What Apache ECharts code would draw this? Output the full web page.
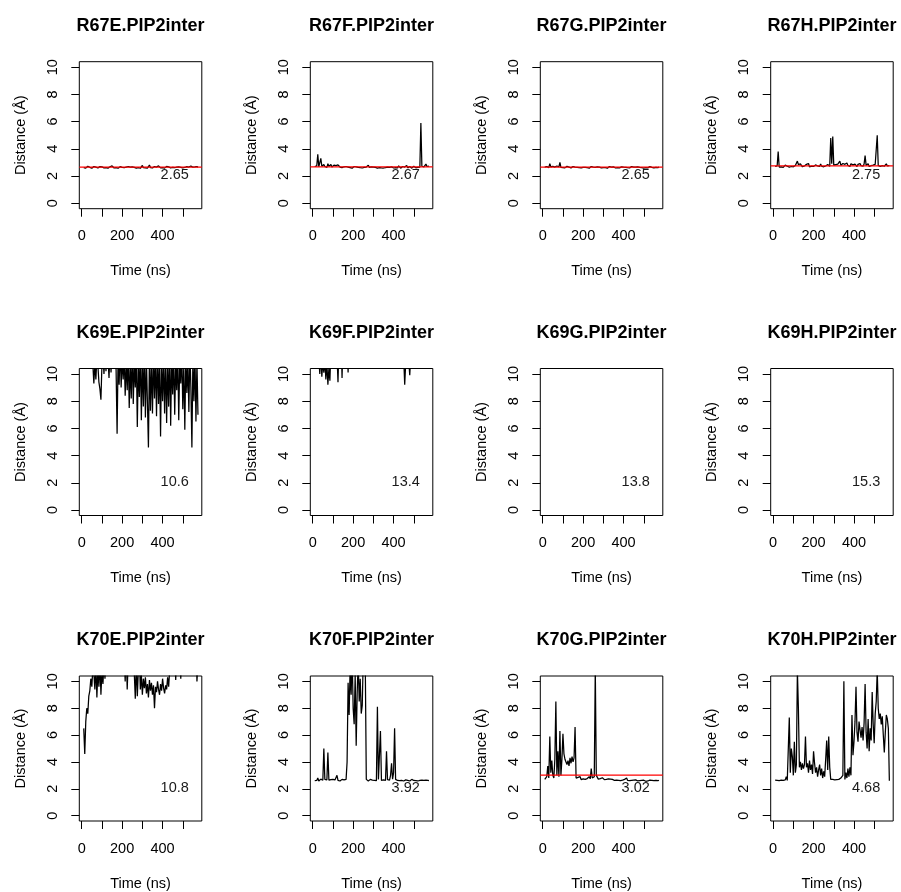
<!DOCTYPE html>
<html>
<head>
<meta charset="utf-8">
<script src="https://cdn.jsdelivr.net/npm/echarts@6/dist/echarts.min.js"></script>
<style>
html,body{margin:0;padding:0;background:#fff;}
#chart{width:901px;height:892px;}
</style>
</head>
<body>
<div id="chart"></div>
<script>
// ---- Data ----
const titles = ['R67E.PIP2inter','R67F.PIP2inter','R67G.PIP2inter','R67H.PIP2inter',
  'K69E.PIP2inter','K69F.PIP2inter','K69G.PIP2inter','K69H.PIP2inter',
  'K70E.PIP2inter','K70F.PIP2inter','K70G.PIP2inter','K70H.PIP2inter'];
const meanLabels = ['2.65','2.67','2.65','2.75','10.6','13.4','13.8','15.3','10.8','3.92','3.02','4.68'];
const redLines = [2.65, 2.67, 2.65, 2.75, null, null, null, null, null, null, 3.02, null];
const xTicks = [0,100,200,300,400,500];
const xTickLabels = [0,200,400];
const yTicks = [0,2,4,6,8,10];
const xRange = [-12, 594];
const yRange = [-0.4, 10.4];

const time = [10,15,20,25,30,35,40,45,50,55,
  60,65,70,75,80,85,90,95,100,105,
  110,115,120,125,130,135,140,145,150,155,
  160,165,170,175,180,185,190,195,200,205,
  210,215,220,225,230,235,240,245,250,255,
  260,265,270,275,280,285,290,295,300,305,
  310,315,320,325,330,335,340,345,350,355,
  360,365,370,375,380,385,390,395,400,405,
  410,415,420,425,430,435,440,445,450,455,
  460,465,470,475,480,485,490,495,500,505,
  510,515,520,525,530,535,540,545,550,555,
  560,565,570,575];
const timeCoarse = [10,50,90,130,170,210,250,290,330,370,410,450,490,530,570];

const r67e = [2.62,2.70,2.58,2.66,2.72,2.60,2.64,2.68,2.57,2.66,
  2.70,2.61,2.65,2.74,2.59,2.63,2.69,2.56,2.67,2.72,
  2.60,2.66,2.62,2.71,2.58,2.64,2.68,2.61,2.75,2.63,
  2.59,2.67,2.62,2.70,2.57,2.65,2.69,2.60,2.64,2.72,
  2.61,2.58,2.66,2.63,2.70,2.59,2.65,2.62,2.68,2.60,
  2.64,2.71,2.58,2.66,2.62,2.69,2.57,2.63,2.78,2.61,
  2.66,2.60,2.72,2.58,2.65,2.81,2.62,2.68,2.59,2.64,
  2.70,2.61,2.66,2.58,2.75,2.63,2.60,2.69,2.62,2.66,
  2.58,2.64,2.71,2.60,2.67,2.62,2.59,2.66,2.63,2.70,
  2.61,2.57,2.65,2.62,2.68,2.59,2.64,2.72,2.60,2.66,
  2.63,2.58,2.69,2.61,2.66,2.60,2.74,2.62,2.65,2.59,
  2.67,2.62,2.70,2.64];
const r67f = [2.70,2.62,2.75,3.60,2.68,2.64,3.30,2.72,2.66,2.85,
  2.70,2.78,2.64,2.90,2.72,2.68,2.85,2.66,2.74,2.80,
  2.68,2.76,2.64,2.82,2.70,2.66,2.78,2.62,2.72,2.68,
  2.64,2.70,2.60,2.66,2.72,2.62,2.68,2.58,2.65,2.70,
  2.62,2.68,2.60,2.64,2.74,2.61,2.66,2.59,2.67,2.63,
  2.60,2.66,2.62,2.80,2.64,2.59,2.67,2.62,2.65,2.60,
  2.63,2.68,2.58,2.65,2.62,2.70,2.60,2.64,2.59,2.66,
  2.62,2.58,2.66,2.61,2.64,2.60,2.68,2.62,2.59,2.65,
  2.61,2.66,2.60,2.75,2.63,2.58,2.64,2.70,2.61,2.66,
  2.62,2.78,2.60,2.65,2.70,2.62,2.58,2.66,2.72,2.63,
  2.60,2.68,2.64,2.70,2.66,5.90,2.72,2.80,2.68,2.74,
  2.88,2.70,2.76,2.72];
const r67g = [2.66,2.60,2.70,2.64,2.62,2.90,2.68,2.58,2.72,2.64,
  2.66,2.62,2.74,2.60,2.68,3.00,2.64,2.70,2.62,2.66,
  2.60,2.68,2.72,2.62,2.66,2.76,2.60,2.64,2.70,2.62,
  2.66,2.58,2.64,2.70,2.62,2.66,2.60,2.68,2.64,2.59,
  2.63,2.68,2.61,2.66,2.58,2.64,2.70,2.62,2.66,2.60,
  2.64,2.59,2.67,2.62,2.65,2.72,2.60,2.66,2.62,2.68,
  2.61,2.66,2.58,2.64,2.70,2.62,2.65,2.60,2.68,2.63,
  2.59,2.66,2.62,2.70,2.60,2.64,2.67,2.61,2.65,2.58,
  2.64,2.68,2.61,2.66,2.60,2.63,2.70,2.62,2.65,2.59,
  2.66,2.62,2.68,2.60,2.64,2.71,2.61,2.65,2.58,2.66,
  2.62,2.67,2.60,2.65,2.69,2.61,2.64,2.68,2.60,2.66,
  2.63,2.70,2.62,2.66];
const r67h = [2.70,2.62,2.75,3.80,2.66,2.72,2.68,2.78,2.64,2.74,
  2.80,2.68,2.72,2.85,2.66,2.76,2.70,2.82,2.68,2.74,
  2.78,2.70,3.10,2.84,2.72,2.90,2.76,2.68,2.82,2.74,
  2.70,2.86,2.74,2.92,2.68,2.78,2.72,2.84,2.70,2.76,
  2.82,2.68,2.74,2.80,2.70,2.88,2.72,2.76,2.68,2.82,
  2.74,2.70,2.84,2.78,2.72,4.80,2.90,4.90,2.80,2.76,
  2.84,2.72,2.88,2.76,3.10,2.80,2.74,2.92,2.78,2.86,
  2.72,2.96,2.78,2.84,2.70,2.90,2.76,2.82,2.74,2.88,
  2.78,2.70,2.86,2.74,2.92,2.76,2.82,2.72,2.88,3.50,
  2.80,2.74,2.90,2.70,2.84,2.76,2.68,2.80,2.74,2.86,
  2.72,5.00,2.78,2.84,2.70,2.82,2.76,2.88,2.72,2.80,
  2.90,2.74,2.82,2.76];
const k69e = [11.5,12.2,11.8,12.6,11.3,12.0,11.1,12.4,11.6,10.7,
  9.3,10.8,9.6,11.2,10.6,9.4,8.9,8.1,10.7,11.4,
  10.0,11.6,10.2,12.0,11.1,9.7,11.8,10.1,12.3,11.0,
  10.6,11.9,10.3,5.6,11.4,9.2,12.1,9.0,11.2,9.6,
  11.3,8.4,10.9,8.8,11.6,7.5,10.8,8.2,11.9,7.8,
  11.0,9.0,11.5,6.1,10.9,8.3,11.7,6.6,11.2,7.6,
  11.8,6.8,11.1,7.9,4.6,11.4,7.3,11.0,7.1,11.6,
  8.2,11.2,6.9,11.7,7.8,10.9,5.4,11.3,8.0,11.0,
  7.1,11.5,6.4,10.8,7.6,11.9,6.2,11.2,8.5,11.4,
  7.0,10.9,8.8,11.6,6.6,11.1,9.3,11.8,7.4,10.7,
  5.9,11.3,8.6,11.0,7.2,11.7,9.0,4.6,11.2,8.0,
  11.5,6.5,10.9,7.0];
const k69f = [13.2,14.1,12.8,13.6,11.2,10.0,11.5,9.8,10.9,10.1,
  11.0,9.6,10.8,9.2,10.4,9.5,11.8,12.9,13.5,14.2,
  13.8,12.6,11.4,9.4,12.2,11.0,13.1,9.7,12.5,13.9,
  13.0,12.2,12.6,10.1,13.4,14.0,13.3,12.8,14.4,13.6,
  12.9,13.7,14.2,13.1,12.7,13.8,14.5,13.2,12.8,13.9,
  14.1,13.0,12.6,13.5,14.3,13.4,12.9,13.8,14.6,13.3,
  12.8,13.9,14.2,13.1,12.5,13.6,14.0,13.3,12.9,14.4,
  13.7,12.7,13.5,14.1,13.0,12.6,13.8,14.3,13.2,12.9,
  13.6,14.0,12.8,13.4,12.9,13.7,12.5,11.9,11.2,9.2,
  10.8,11.6,12.4,11.0,9.9,11.4,12.8,13.6,14.1,13.3,
  13.8,14.4,13.1,12.7,13.9,14.6,13.4,12.8,14.0,13.5,
  13.2,14.1,13.7,12.9];
const k69g = [12.9,14.6,13.2,14.1,13.5,14.8,13.0,14.3,13.7,12.8,14.5,13.9,14.2,13.4,14.0];
const k69h = [14.6,15.9,15.1,16.2,14.8,15.5,16.0,14.9,15.7,15.2,16.4,14.7,15.3,15.8,15.0];
const k70e = [6.5,4.6,7.0,8.0,7.6,8.9,9.3,10.2,9.6,11.0,
  10.6,9.4,11.2,8.8,10.9,9.6,11.5,9.0,10.8,9.8,
  11.4,10.2,12.0,11.6,12.5,11.8,12.9,12.2,13.1,12.4,
  12.8,13.3,12.5,13.0,12.2,12.7,13.4,12.1,12.9,12.4,
  11.8,10.0,12.3,9.4,11.6,12.5,12.0,13.1,12.6,11.3,
  10.6,8.7,11.4,8.9,10.8,11.9,9.4,10.5,9.0,10.2,
  9.5,10.3,9.1,9.8,8.8,10.1,9.3,9.9,9.0,9.7,
  8.0,9.6,9.2,10.0,9.4,9.0,9.8,9.3,10.2,9.5,
  9.1,9.7,9.4,10.3,9.6,10.8,11.5,12.2,11.0,12.6,
  11.8,10.1,12.4,13.0,12.1,12.8,10.2,12.3,13.1,12.6,
  12.0,12.9,13.3,12.4,12.8,13.0,12.2,12.7,13.4,12.5,
  12.1,12.9,10.0,11.4];
const k70f = [2.60,2.70,2.62,2.80,2.58,2.66,2.72,2.60,2.64,5.00,
  2.70,2.62,2.66,4.70,2.64,2.58,2.68,2.62,2.70,2.60,
  2.66,2.72,3.00,2.62,2.68,2.58,2.64,2.70,2.60,2.66,
  2.62,2.70,4.00,9.90,7.50,11.0,9.00,12.0,8.00,6.80,
  10.5,5.20,9.20,11.5,8.50,10.2,7.60,8.20,11.8,10.6,
  11.2,2.70,2.62,2.58,2.66,2.70,2.60,2.64,2.72,2.62,
  2.66,2.60,8.10,2.70,2.64,6.30,2.62,2.75,2.66,2.70,
  2.62,4.80,2.68,2.80,2.64,3.00,3.90,2.72,3.20,6.50,
  2.70,2.64,2.62,2.68,2.60,2.66,2.62,2.70,2.58,2.64,
  2.66,2.60,2.62,2.68,2.58,2.64,2.70,2.60,2.62,2.66,
  2.60,2.64,2.58,2.66,2.62,2.60,2.64,2.58,2.62,2.60,
  2.64,2.58,2.62,2.60];
const k70g = [2.70,2.60,2.90,3.70,2.80,5.90,3.20,4.10,3.00,2.80,
  4.20,8.50,3.00,4.80,2.90,6.30,3.00,4.20,6.10,4.60,
  4.20,4.00,3.80,4.10,3.70,4.30,3.90,4.40,4.00,4.30,
  6.60,2.80,2.70,2.85,2.72,2.90,2.68,2.80,2.74,2.86,
  2.70,2.82,2.76,2.68,2.90,2.74,3.50,2.80,2.70,2.90,
  11.0,3.00,2.86,2.72,2.80,2.76,2.70,2.82,2.74,2.68,
  2.76,2.70,2.66,2.74,2.68,2.72,2.64,2.70,2.66,2.62,
  2.68,2.64,2.70,2.62,2.66,2.60,2.68,2.64,2.62,2.70,
  2.64,2.80,2.62,2.66,2.60,2.68,2.62,2.58,2.64,2.60,
  2.66,2.62,2.58,2.64,2.60,2.56,2.62,2.58,2.64,2.60,
  2.56,2.62,2.58,2.60,2.64,2.58,2.62,2.56,2.60,2.64,
  2.62,2.66,2.60,2.64];
const k70h = [2.64,2.70,2.62,2.66,2.60,2.68,2.64,2.70,2.62,2.58,
  2.66,2.90,2.62,2.60,7.30,3.20,5.00,4.40,3.00,5.50,
  3.20,3.80,10.8,8.00,3.60,4.00,3.40,3.90,3.50,3.80,
  5.90,3.60,3.90,3.20,4.10,3.40,3.80,3.10,4.80,3.90,
  3.20,3.60,2.90,3.40,3.80,3.00,3.50,2.80,3.30,2.90,
  4.20,5.60,3.40,5.90,3.60,2.70,2.64,2.70,2.62,2.66,
  2.60,2.68,2.62,2.70,2.64,2.80,2.66,3.00,10.0,2.70,
  3.20,2.80,3.50,2.90,3.60,3.00,7.50,4.50,5.50,7.00,
  9.60,6.20,5.50,7.00,6.40,5.80,6.60,5.60,6.90,9.80,
  6.20,5.00,7.20,4.80,6.50,5.60,9.20,6.80,5.40,7.60,
  8.50,10.8,8.00,7.20,7.60,6.80,7.40,6.00,4.70,6.20,
  7.50,7.20,6.50,2.60];

const seriesValues = [r67e, r67f, r67g, r67h, k69e, k69f, k69g, k69h, k70e, k70f, k70g, k70h];
const seriesTimes = [time, time, time, time, time, time, timeCoarse, timeCoarse, time, time, time, time];

// ---- Layout ----
const FONT = 'Liberation Sans, Arial, Helvetica, sans-serif';
const colLeft = [79.3, 310.3, 540.3, 770.7];
const rowTop = [61.7, 368.5, 676];
const W = 122.5, H = 147;

const grids = [], xAxes = [], yAxes = [], series = [], graphics = [];
for (let i = 0; i < 12; i++) {
  const r = Math.floor(i / 4), c = i % 4;
  grids.push({left: colLeft[c], top: rowTop[r], width: W, height: H,
    show: true, borderColor: '#000', borderWidth: 1, backgroundColor: 'rgba(0,0,0,0)', containLabel: false});
  xAxes.push({type: 'value', gridIndex: i, min: xRange[0], max: xRange[1],
    axisLine: {show: false, onZero: false},
    axisTick: {show: true, length: 8, customValues: xTicks, lineStyle: {color: '#000', width: 1}},
    axisLabel: {customValues: xTickLabels, margin: 20, fontSize: 14.5, color: '#000', fontFamily: FONT},
    splitLine: {show: false},
    name: 'Time (ns)', nameLocation: 'middle', nameGap: 55,
    nameTextStyle: {fontSize: 14.5, color: '#000', fontFamily: FONT}});
  yAxes.push({type: 'value', gridIndex: i, min: yRange[0], max: yRange[1],
    axisLine: {show: false, onZero: false},
    axisTick: {show: true, length: 8, customValues: yTicks, lineStyle: {color: '#000', width: 1}},
    axisLabel: {customValues: yTicks, rotate: 90, margin: 19, fontSize: 14.5, color: '#000', fontFamily: FONT},
    splitLine: {show: false},
    name: 'Distance (Å)', nameLocation: 'middle', nameGap: 51,
    nameTextStyle: {fontSize: 14.5, color: '#000', fontFamily: FONT}});
  const t = seriesTimes[i], v = seriesValues[i];
  const data = t.map((x, k) => [x, v[k]]);
  series.push({type: 'line', xAxisIndex: i, yAxisIndex: i, data: data, showSymbol: false, symbol: 'none',
    clip: true, animation: false, silent: true, z: 2,
    itemStyle: {color: '#000'},
    lineStyle: {color: '#000', width: 1.25},
    markPoint: {silent: true, symbol: 'circle', symbolSize: 0, animation: false,
      itemStyle: {color: 'rgba(0,0,0,0)'},
      label: {show: true, position: 'inside', formatter: meanLabels[i], fontSize: 14.5, color: '#1a1a1a', fontFamily: FONT},
      data: [{coord: [460, 2.05]}]}
  });
  if (redLines[i] !== null) {
    // horizontal mean line (like abline) spanning the full x range, drawn on top
    series.push({type: 'line', xAxisIndex: i, yAxisIndex: i,
      data: [[xRange[0], redLines[i]], [xRange[1], redLines[i]]],
      showSymbol: false, symbol: 'none', clip: true, z: 10, silent: true, animation: false,
      itemStyle: {color: '#ff0000'},
      lineStyle: {color: '#ff0000', width: 1.2, type: 'solid'}
    });
  }
  graphics.push({type: 'text', x: colLeft[c] + W / 2, y: rowTop[r] - 35.5,
    style: {text: titles[i], font: 'bold 18px ' + FONT, fill: '#000', textAlign: 'center', textVerticalAlign: 'middle'}});
}

const chart = echarts.init(document.getElementById('chart'), null, {renderer: 'canvas'});
chart.setOption({
  animation: false,
  backgroundColor: '#fff',
  grid: grids, xAxis: xAxes, yAxis: yAxes, series: series,
  graphic: graphics
});
</script>
</body>
</html>
